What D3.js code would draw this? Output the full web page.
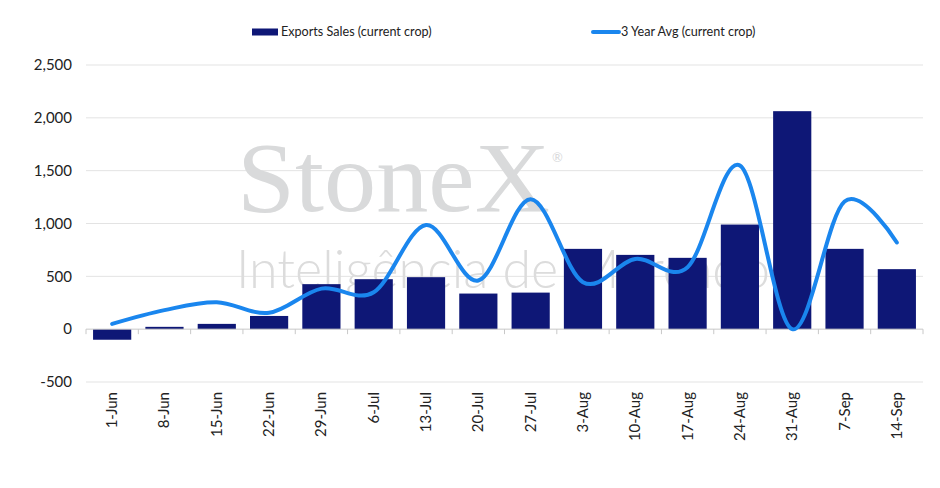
<!DOCTYPE html>
<html><head><meta charset="utf-8">
<script src="https://cdn.jsdelivr.net/npm/d3@7"></script>
<style>body{margin:0;background:#fff;}svg{display:block;}</style>
</head><body>
<svg id="c" width="940" height="488"></svg>
<script>
const categories = ["1-Jun","8-Jun","15-Jun","22-Jun","29-Jun","6-Jul","13-Jul","20-Jul","27-Jul","3-Aug","10-Aug","17-Aug","24-Aug","31-Aug","7-Sep","14-Sep"];
const exportsSales = [-100,22,50,125,426,473,492,337,346,760,703,675,990,2063,760,568];
const avg3y = [50,180,255,155,384,350,985,460,1230,445,665,587,1548,0,1208,820];
const yTicks = [-500,0,500,1000,1500,2000,2500];

const svg = d3.select("#c");
const font = "Lato, 'Noto Sans', sans-serif";
const m = {l:86, r:923, t:65, b:382};
const x = d3.scaleBand().domain(categories).range([m.l, m.r]).paddingInner(0.27).paddingOuter(0.135);
const xb = d3.scaleBand().domain(categories).range([m.l, m.r]);
const y = d3.scaleLinear().domain([-500,2500]).range([m.b, m.t]);
const fmt = d => d3.format(",")(d).replace("\u2212", "-");

// gridlines
svg.append("g").selectAll("line").data(yTicks.filter(d=>d!==0)).join("line")
  .attr("x1", m.l).attr("x2", m.r).attr("y1", d=>y(d)).attr("y2", d=>y(d))
  .attr("stroke", "#e3e3e3").attr("stroke-width", 1);

// y labels
const yAxis = d3.axisLeft(y).tickValues(yTicks).tickSize(0).tickPadding(14).tickFormat(fmt);
const ga = svg.append("g").attr("transform", `translate(${m.l},0)`).call(yAxis);
ga.select(".domain").remove();
ga.selectAll("text").attr("font-family", font).attr("font-size", 15).attr("fill", "#222");

// watermark
svg.append("text").attr("x", 237).attr("y", 211).text("StoneX")
  .attr("font-family", "'Liberation Serif', 'DejaVu Serif', serif").attr("font-size", 100)
  .attr("textLength", 313).attr("lengthAdjust", "spacingAndGlyphs")
  .attr("fill", "#d9dadb");
svg.append("text").attr("x", 552).attr("y", 162).text("®")
  .attr("font-family", font).attr("font-size", 13).attr("fill", "#d9dadb");
svg.append("text").attr("x", 236).attr("y", 288).text("Inteligência de Mercado")
  .attr("font-family", "Lato, 'Open Sans', sans-serif").attr("font-weight", 300).attr("font-size", 53)
  .attr("textLength", 534).attr("lengthAdjust", "spacingAndGlyphs")
  .attr("fill", "#dcdcdc");

// bars
svg.append("g").selectAll("rect").data(exportsSales).join("rect")
  .attr("x", (d,i)=>x(categories[i])).attr("width", x.bandwidth())
  .attr("y", d=>y(Math.max(0,d))).attr("height", d=>Math.abs(y(d)-y(0)))
  .attr("fill", "#0e1776");

// zero axis with ticks
const xAxis = d3.axisBottom(xb).tickSize(0).tickFormat("");
svg.append("line").attr("x1", m.l).attr("x2", m.r).attr("y1", y(0)).attr("y2", y(0))
  .attr("stroke", "#c8c8c8");
svg.append("g").selectAll("line").data(d3.range(categories.length+1)).join("line")
  .attr("x1", i=>m.l + i*xb.step()).attr("x2", i=>m.l + i*xb.step())
  .attr("y1", y(0)).attr("y2", y(0)+5).attr("stroke", "#c8c8c8");

// x labels
const gx = svg.append("g").attr("transform", `translate(0,${m.b})`).call(xAxis);
gx.select(".domain").remove();
gx.selectAll(".tick text").remove();
gx.selectAll(".tick").append("text")
  .attr("transform", "translate(5,10) rotate(-90)")
  .attr("text-anchor", "end").attr("font-family", font).attr("font-size", 15).attr("fill", "#222")
  .text(d=>d);

// line
const line = d3.line().x((d,i)=>xb(categories[i]) + xb.bandwidth()/2).y(d=>y(d)).curve(d3.curveCatmullRom.alpha(0));
svg.append("path").datum(avg3y).attr("d", line).attr("fill", "none")
  .attr("stroke", "#1a86ee").attr("stroke-width", 4).attr("stroke-linecap", "round");

// legend
svg.append("rect").attr("x", 252).attr("y", 28.5).attr("width", 26).attr("height", 7).attr("fill", "#0e1776");
svg.append("text").attr("x", 281).attr("y", 36).text("Exports Sales (current crop)")
  .attr("font-family", font).attr("font-size", 12.6).attr("fill", "#222");
svg.append("line").attr("x1", 593).attr("x2", 619).attr("y1", 32).attr("y2", 32)
  .attr("stroke", "#1a86ee").attr("stroke-width", 4).attr("stroke-linecap", "round");
svg.append("text").attr("x", 621).attr("y", 36).text("3 Year Avg (current crop)")
  .attr("font-family", font).attr("font-size", 12.6).attr("fill", "#222");
</script>
</body></html>
